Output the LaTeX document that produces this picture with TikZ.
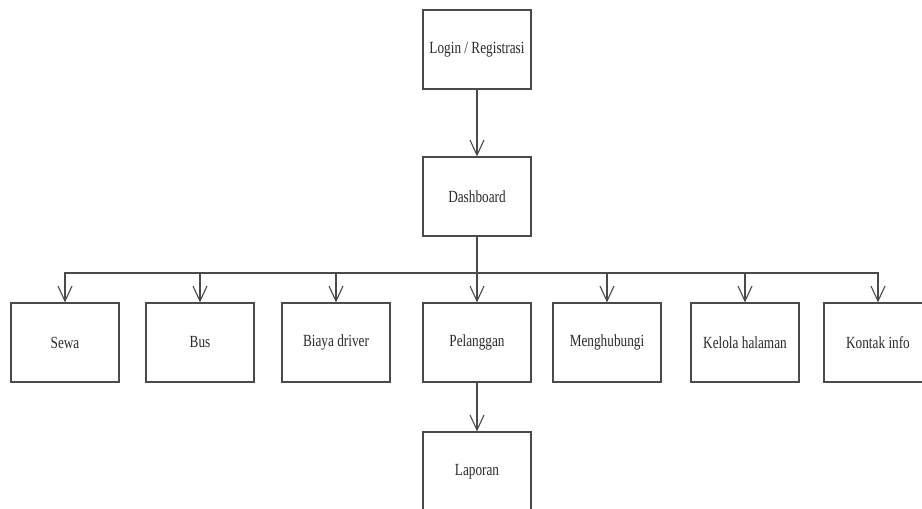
\documentclass[tikz,border=0pt]{standalone}
\usepackage{fontspec}
\setmainfont{Liberation Serif}
\usepackage{xcolor}
\usepackage{graphicx}
\usetikzlibrary{positioning,arrows.meta}

\definecolor{linegray}{HTML}{4A4A4A}
\definecolor{textgray}{HTML}{2A2A2A}
\newcommand{\narrowtxt}[1]{\scalebox{0.78}[1]{#1}}

\begin{document}
\begin{tikzpicture}[x=1pt,y=-1pt,
    box/.style={draw=linegray, line width=1.2pt, fill=white, minimum width=108pt, minimum height=79pt, inner sep=0, text=textgray, font=\fontsize{17}{19}\selectfont},
    link/.style={draw=linegray, line width=1.1pt, -{Straight Barb[length=15pt,width=14pt,line width=1.1pt]}}]
    \useasboundingbox (0,0) rectangle (922,509);
    \clip (0,0) rectangle (922,509);

    % top boxes
    \node[box] (login) at (477,49.5) {\narrowtxt{Login / Registrasi}};
    \node[box] (dash) at (477,196.5) {\narrowtxt{Dashboard}};
    \draw[link] (login) -- (dash);

    % branch point under dashboard
    \coordinate (hub) at (477,273);
    \draw[draw=linegray, line width=1.1pt] (dash.south) -- (hub);
    \draw[draw=linegray, line width=1.1pt] (65,273) -- (878,273);

    % menu boxes
    \foreach \name/\x/\txt in {sewa/65/Sewa, bus/200/Bus, biaya/336/Biaya driver, pel/477/Pelanggan, hub1/607/Menghubungi, kelola/745/Kelola halaman, kontak/878/Kontak info}
    {
        \node[box] (\name) at (\x,342.5) {\narrowtxt{\txt}};
        \draw[link] (hub) -| (\name.north);
    }

    % report
    \node[box] (lap) at (477,471.5) {\narrowtxt{Laporan}};
    \draw[link] (pel) -- (lap);
\end{tikzpicture}
\end{document}
